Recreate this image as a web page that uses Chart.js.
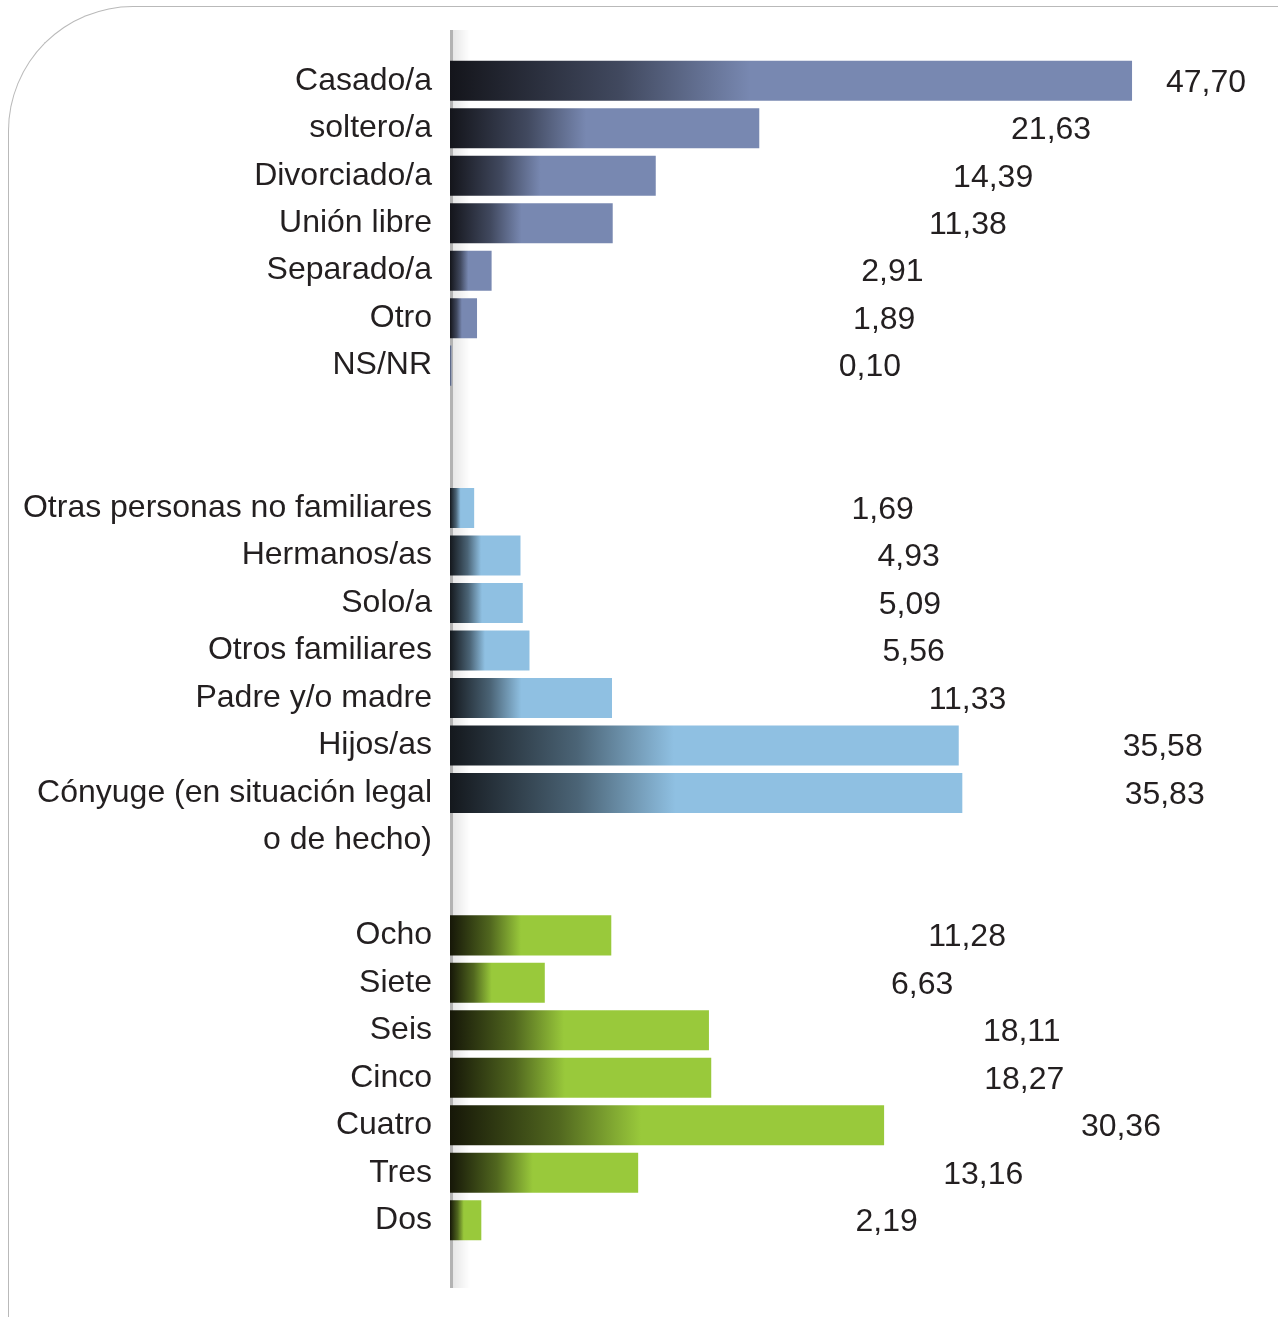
<!DOCTYPE html>
<html lang="es">
<head>
<meta charset="utf-8">
<title>Estado civil, convivencia y tamaño del hogar</title>
<script src="https://cdn.jsdelivr.net/npm/chart.js@4.4.1/dist/chart.umd.min.js"></script>
<style>
  html, body { margin: 0; padding: 0; background: #ffffff; }
  #wrap { position: relative; width: 1278px; height: 1317px; overflow: hidden; }
  #frame {
    position: absolute; left: 8px; top: 6px; width: 1400px; height: 1400px;
    border-top: 1px solid #b9b9b9; border-left: 1px solid #b9b9b9;
    border-top-left-radius: 125px; box-sizing: border-box;
  }
  #chart { position: absolute; left: 0; top: 0; }
</style>
</head>
<body>
<div id="wrap">
  <div id="frame"></div>
  <canvas id="chart" width="1278" height="1317"></canvas>
</div>
<script>
// Estado civil (%)
const estadoCivil = ['Casado/a', 'soltero/a', 'Divorciado/a', 'Unión libre', 'Separado/a', 'Otro', 'NS/NR'];
const estadoCivilPct = [47.70, 21.63, 14.39, 11.38, 2.91, 1.89, 0.10];

// Con quién vive (%)
const convivencia = ['Otras personas no familiares', 'Hermanos/as', 'Solo/a', 'Otros familiares',
                     'Padre y/o madre', 'Hijos/as', 'Cónyuge (en situación legal\no de hecho)'];
const convivenciaPct = [1.69, 4.93, 5.09, 5.56, 11.33, 35.58, 35.83];

// Número de personas en el hogar (%)
const personasHogar = ['Ocho', 'Siete', 'Seis', 'Cinco', 'Cuatro', 'Tres', 'Dos'];
const personasHogarPct = [11.28, 6.63, 18.11, 18.27, 30.36, 13.16, 2.19];

const grupos = [
  { labels: estadoCivil, values: estadoCivilPct, dark: '#14151b', color: '#7888b1' },
  { labels: convivencia, values: convivenciaPct, dark: '#14181d', color: '#8fc0e2' },
  { labels: personasHogar, values: personasHogarPct, dark: '#161708', color: '#99c93b' }
];
const SPACERS = 2;

// Build the category list: each group followed by empty rows; a label with a
// second line continues on the first empty row below it.
const categorias = [];
const groupOf = [];
grupos.forEach((g, gi) => {
  let carry = null;
  g.labels.forEach(l => {
    const parts = l.split('\n');
    categorias.push(parts[0]);
    groupOf.push(gi);
    carry = parts[1] || null;
  });
  if (gi < grupos.length - 1) {
    for (let s = 0; s < SPACERS; s++) {
      categorias.push(s === 0 && carry ? carry : '');
      groupOf.push(-1);
    }
  }
});

function hex(c) { return [1, 3, 5].map(i => parseInt(c.substr(i, 2), 16)); }
function mix(a, b, t) {
  const A = hex(a), B = hex(b);
  return 'rgb(' + A.map((v, i) => Math.round(v + (B[i] - v) * t)).join(',') + ')';
}

const datasets = grupos.map((g, gi) => {
  const data = [];
  let k = 0;
  groupOf.forEach(go => {
    data.push(go === gi ? g.values[k++] : null);
  });
  return {
    data,
    grouped: false,
    barPercentage: 0.843,
    categoryPercentage: 1,
    borderWidth: 0,
    backgroundColor: (ctx) => {
      const chart = ctx.chart;
      if (!chart.chartArea || ctx.raw == null) return g.color;
      const xs = chart.scales.x;
      const x0 = xs.getPixelForValue(0);
      const x1 = xs.getPixelForValue(ctx.raw);
      if (x1 - x0 < 1) return g.color;
      const grad = chart.ctx.createLinearGradient(x0, 0, x1, 0);
      grad.addColorStop(0, g.dark);
      grad.addColorStop(0.25, mix(g.dark, g.color, 0.45));
      grad.addColorStop(0.44, g.color);
      grad.addColorStop(1, g.color);
      return grad;
    }
  };
});

const FONT = "'Liberation Sans', Arial, Helvetica, sans-serif";
const FONT_SIZE = 32;

// Vertical baseline with a soft shadow on its right side
const axisLine = {
  id: 'axisLine',
  beforeDatasetsDraw(chart) {
    const { ctx, chartArea } = chart;
    const x = chartArea.left;
    const top = chartArea.top - 27, bottom = chartArea.bottom + 44;
    ctx.save();
    const sh = ctx.createLinearGradient(x + 2, 0, x + 20, 0);
    sh.addColorStop(0, 'rgba(0,0,0,0.10)');
    sh.addColorStop(1, 'rgba(0,0,0,0)');
    ctx.fillStyle = sh;
    ctx.fillRect(x + 2, top, 18, bottom - top);
    ctx.fillStyle = '#b3b3b3';
    ctx.fillRect(x, top, 3, bottom - top);
    ctx.restore();
  }
};

// Percentage labels, placed along the hidden "pos" scale and kept inside the plot
const valueLabels = {
  id: 'valueLabels',
  afterDatasetsDraw(chart) {
    const { ctx, chartArea } = chart;
    const pos = chart.scales.pos;
    ctx.save();
    ctx.font = FONT_SIZE + 'px ' + FONT;
    ctx.fillStyle = '#231f20';
    ctx.textAlign = 'left';
    ctx.textBaseline = 'middle';
    chart.data.datasets.forEach((ds, di) => {
      const meta = chart.getDatasetMeta(di);
      ds.data.forEach((v, i) => {
        if (v == null) return;
        const el = meta.data[i];
        const txt = v.toFixed(2).replace('.', ',');
        const w = ctx.measureText(txt).width;
        const x = Math.min(pos.getPixelForValue(v), chartArea.right - w);
        ctx.fillText(txt, x, el.y + 2);
      });
    });
    ctx.restore();
  }
};

new Chart(document.getElementById('chart'), {
  type: 'bar',
  data: { labels: categorias, datasets },
  plugins: [axisLine, valueLabels],
  options: {
    indexAxis: 'y',
    responsive: false,
    animation: false,
    events: [],
    layout: { padding: { top: 57, bottom: 73, left: 0, right: 32 } },
    plugins: { legend: { display: false }, tooltip: { enabled: false } },
    scales: {
      y: {
        type: 'category',
        offset: true,
        grid: { display: false, drawTicks: false },
        border: { display: false },
        afterFit(scale) { scale.width = 450; },
        ticks: {
          autoSkip: false,
          padding: 18,
          color: '#231f20',
          font: { family: FONT, size: FONT_SIZE }
        }
      },
      x: {
        type: 'linear',
        min: 0,
        max: 55.67,
        display: false
      },
      pos: {
        type: 'linear',
        axis: 'x',
        position: 'top',
        min: -48.5,
        max: 51.0,
        display: false
      }
    }
  }
});
</script>
</body>
</html>
